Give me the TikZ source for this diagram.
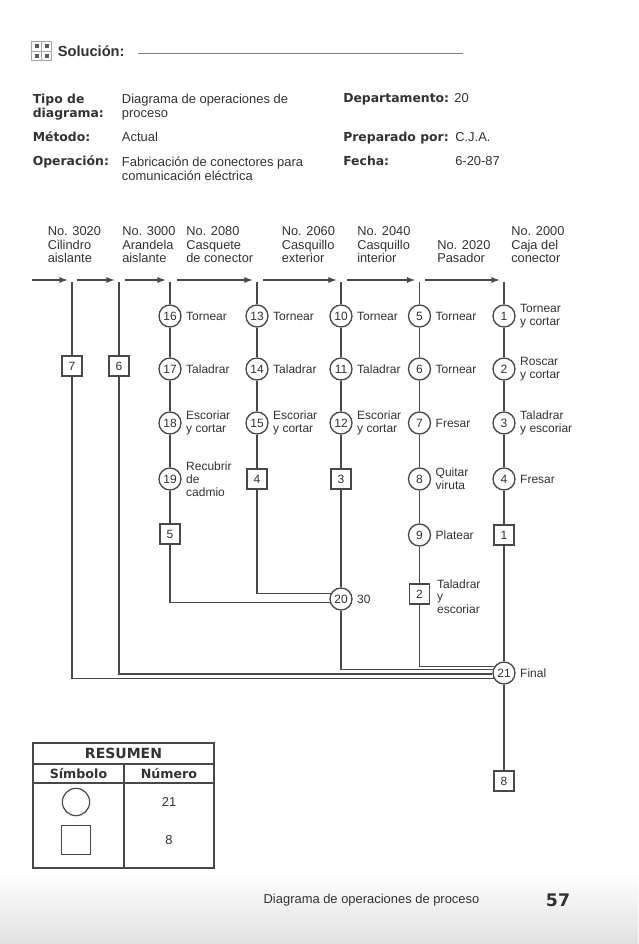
\documentclass[tikz,border=0pt]{standalone}
\usepackage{fontspec}
\setmainfont{Liberation Sans}
\newfontfamily\heavyfont{DejaVu Sans}
\usepackage{tikz}
\usetikzlibrary{arrows.meta,positioning,calc}
\definecolor{ink}{RGB}{50,50,50}
\definecolor{wire}{RGB}{72,72,72}
\newcommand\txtsize{\fontsize{9.7}{11}\selectfont}
\newcommand\hdsize{\fontsize{9.6}{10.1}\selectfont}
\newcommand\opsize{\fontsize{9}{9.6}\selectfont}
\tikzset{
  flow/.style={draw=wire, line width=1pt},
  feed/.style={flow, -{Latex[length=6.5pt,width=4.6pt]}},
  opn/.style={circle, draw=wire, line width=1pt, fill=white, minimum size=16.5pt,
    inner sep=0pt, font=\opsize, text=ink},
  insp/.style={rectangle, draw=wire, line width=1pt, fill=white, minimum size=15pt,
    inner sep=0pt, font=\opsize, text=ink},
  oplab/.style={anchor=west, align=left, inner sep=0pt, font=\opsize, text=ink},
  colhead/.style={anchor=south west, align=left, inner sep=0pt, font=\hdsize, text=ink},
  infolab/.style={anchor=base west, align=left, inner sep=0pt,
    font=\heavyfont\bfseries\fontsize{9.3}{11}\selectfont, text=ink},
  infoval/.style={anchor=base west, align=left, inner sep=0pt, font=\txtsize, text=ink},
  tabhead/.style={inner sep=0pt, font=\heavyfont\bfseries\fontsize{9.5}{11}\selectfont, text=ink},
}

\begin{document}
\begin{tikzpicture}[x=0.75pt, y=-0.75pt]
  \useasboundingbox (0,0) rectangle (638,944);
  \fill[white] (0,0) rectangle (638,944);
  \fill[top color=white, bottom color=gray!24] (0,872) rectangle (638,944);

  % titulo
  \draw[gray!70, line width=0.5pt] (31.5,41.5) rectangle (51.5,60.5);
  \draw[gray!70, line width=0.4pt] (41.5,41.5) -- (41.5,60.5) (31.5,51) -- (51.5,51);
  \foreach \x/\y in {36.5/46.3,46.5/46.3,36.5/55.7,46.5/55.7}
    {\fill[ink!80] (\x-2,\y-2) rectangle (\x+2,\y+2);}
  \node[anchor=west, inner sep=0pt, font=\bfseries\fontsize{11}{13}\selectfont, text=ink]
    (sol) at (57.5,51.5) {Solución:};
  \draw[gray, line width=0.5pt] (138,53) -- (463,53);

  % datos del diagrama (base = ultima linea)
  \node[infolab] (tipo) at (32.5,118) {Tipo de\\diagrama:};
  \node[infoval] (tipov) at (121.7,118) {Diagrama de operaciones de\\proceso};
  \node[infolab] (met) at (32.5,142) {Método:};
  \node[infoval] (metv) at (121.7,142) {Actual};
  \node[infolab] (oper) at (32.5,166) {Operación:};
  \node[infoval] (operv) at (121.7,181) {Fabricación de conectores para\\comunicación eléctrica};
  \node[infolab] (dep) at (343,103) {Departamento:};
  \node[infoval] (depv) at ([xshift=3.5pt]dep.base east) {20};
  \node[infolab] (prep) at (343,142) {Preparado por:};
  \node[infoval] (prepv) at (455,142) {C.J.A.};
  \node[infolab] (fecha) at (343,166) {Fecha:};
  \node[infoval] (fechav) at (455,166) {6-20-87};

  % piezas
  \node[colhead] (hA) at (47.5,263) {No. 3020\\Cilindro\\aislante};
  \node[colhead] (hB) at (122,263) {No. 3000\\Arandela\\aislante};
  \node[colhead] (hC) at (186,263) {No. 2080\\Casquete\\de conector};
  \node[colhead] (hD) at (281.5,263) {No. 2060\\Casquillo\\exterior};
  \node[colhead] (hE) at (357,263) {No. 2040\\Casquillo\\interior};
  \node[colhead] (hF) at (437,263) {No. 2020\\Pasador};
  \node[colhead] (hG) at (511,263) {No. 2000\\Caja del\\conector};

  \foreach \c/\x/\s in {A/72/32,B/119/77,C/170/125,D/257/177,E/341/263,F/419.5/347,G/504/425}{
    \coordinate (top\c) at (\x,282);
    \coordinate (src\c) at (\s,280);
    \coordinate (dst\c) at (\x-4,280);
    \draw[feed] (src\c) -- (dst\c);
  }

  % operaciones
  \foreach \n/\x/\y/\t in {16/170/316/Tornear, 17/170/369/Taladrar,
      18/170/423/{Escoriar\\y cortar}, 19/170/479/{Recubrir\\de\\cadmio},
      13/257/316/Tornear, 14/257/369/Taladrar, 15/257/423/{Escoriar\\y cortar},
      10/341/316/Tornear, 11/341/369/Taladrar, 12/341/423/{Escoriar\\y cortar},
      5/419.5/316/Tornear, 6/419.5/369/Tornear, 7/419.5/423/Fresar,
      8/419.5/479/{Quitar\\viruta}, 9/419.5/535/Platear,
      1/504/316/{Tornear\\y cortar}, 2/504/369/{Roscar\\y cortar},
      3/504/423/{Taladrar\\y escoriar}, 4/504/479/Fresar,
      20/341/599/30, 21/504/673/Final}{
    \node[opn] (c\n) at (\x,\y) {\n};
    \node[oplab] (l\n) at ([xshift=3.2pt]c\n.east) {\t};
  }

  % inspecciones
  \foreach \n/\x/\y in {7/72/366,6/119/366,5/170/534,4/257/479,3/341/479,
      2/419.5/594,1/504/535,8/504/781}
    {\node[insp] (b\n) at (\x,\y) {\n};}
  \node[oplab] (lb2) at ([xshift=5pt,yshift=-2pt]b2.east) {Taladrar\\y\\escoriar};

  % lineas de flujo
  \draw[flow] (topA) -- (b7) |- (c21.207);
  \draw[flow] (topB) -- (b6) |- (c21.185);
  \draw[flow] (topC) -- (c16) -- (c17) -- (c18) -- (c19) -- (b5) |- (c20.196);
  \draw[flow] (topD) -- (c13) -- (c14) -- (c15) -- (b4) |- (c20.153);
  \draw[flow] (topE) -- (c10) -- (c11) -- (c12) -- (b3) -- (c20);
  \draw[flow] (c20) |- (c21.164);
  \draw[flow] (topF) -- (c5) -- (c6) -- (c7) -- (c8) -- (c9) -- (b2) |- (c21.147);
  \draw[flow] (topG) -- (c1) -- (c2) -- (c3) -- (c4) -- (b1) -- (c21) -- (b8);

  % resumen
  \draw[wire, line width=0.9pt] (33,743) rectangle (214,868);
  \draw[wire, line width=0.9pt] (33,764) -- (214,764) (33,783) -- (214,783) (124,764) -- (124,868);
  \node[tabhead, font=\heavyfont\bfseries\fontsize{10.5}{12}\selectfont] (res) at (123.5,753.5) {RESUMEN};
  \node[tabhead] (simb) at (78.5,773.5) {Símbolo};
  \node[tabhead] (num) at (169,773.5) {Número};
  \node[circle, draw=wire, line width=0.9pt, minimum size=20.5pt, inner sep=0pt] (scirc) at (76,802) {};
  \node[rectangle, draw=wire, line width=0.9pt, minimum size=21.5pt, inner sep=0pt] (ssq) at (76,840) {};
  \node[inner sep=0pt, font=\txtsize, text=ink] (n21) at (169,802) {21};
  \node[inner sep=0pt, font=\txtsize, text=ink] (n8) at (169,840) {8};

  % pie
  \node[inner sep=0pt, font=\txtsize, text=ink] (pie) at (371.5,900) {Diagrama de operaciones de proceso};
  \node[inner sep=0pt, font=\heavyfont\bfseries\fontsize{13}{15}\selectfont, text=ink] (pag) at (558,900) {57};
\end{tikzpicture}
\end{document}
